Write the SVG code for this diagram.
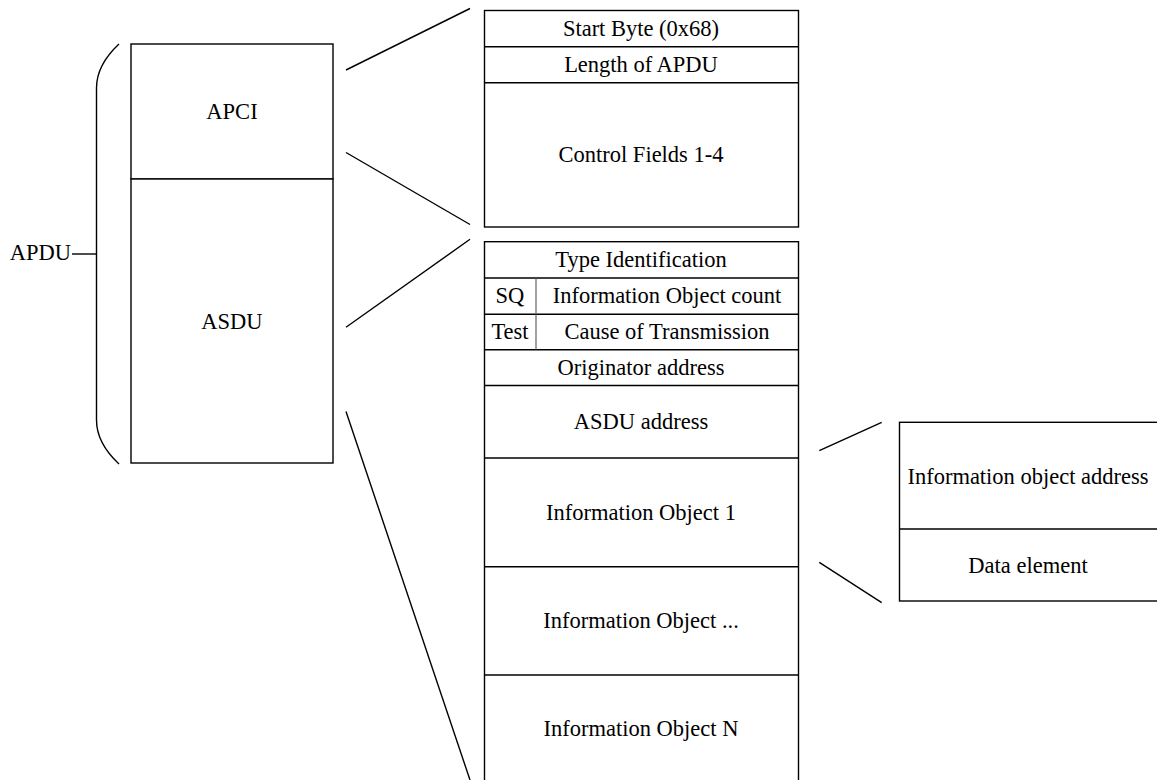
<svg xmlns="http://www.w3.org/2000/svg" width="1157" height="780" viewBox="0 0 1157 780">
<style>
.b{fill:#fff;stroke:#000;stroke-width:1.4}
.l{fill:none;stroke:#000;stroke-width:1.4}
.d{fill:none;stroke:#555;stroke-width:1.1}
text{font-family:"Liberation Serif","Times New Roman",serif;font-size:22.5px;fill:#000;text-anchor:middle}
</style>
<rect width="1157" height="780" fill="#fff"/>
<g id="apdu">
<path class="l" d="M119,44 C104,58 96.5,72 96.5,88 L96.5,420 C96.5,436 104,450 119,464"/>
<line class="l" x1="72" y1="254" x2="96.5" y2="254"/>
<text x="71" y="260" style="text-anchor:end">APDU</text>
</g>
<g id="apci">
<rect class="b" x="131" y="44" width="202" height="135"/>
<text x="232" y="119">APCI</text>
</g>
<g id="asdu">
<rect class="b" x="131" y="179" width="202" height="284"/>
<text x="232" y="328.5">ASDU</text>
</g>
<g id="apci-detail">
<rect class="b" x="484.5" y="10.5" width="314" height="216.5"/>
<line class="l" x1="484.5" y1="46.7" x2="798.5" y2="46.7"/>
<line class="l" x1="484.5" y1="82.7" x2="798.5" y2="82.7"/>
<text x="641" y="36">Start Byte (0x68)</text>
<text x="641" y="72">Length of APDU</text>
<text x="641" y="162.3">Control Fields 1-4</text>
</g>
<g id="asdu-detail">
<rect class="b" x="484.5" y="241.7" width="314" height="545"/>
<line class="l" x1="484.5" y1="278" x2="798.5" y2="278"/>
<line class="l" x1="484.5" y1="314.3" x2="798.5" y2="314.3"/>
<line class="l" x1="484.5" y1="349.7" x2="798.5" y2="349.7"/>
<line class="l" x1="484.5" y1="385.5" x2="798.5" y2="385.5"/>
<line class="l" x1="484.5" y1="458" x2="798.5" y2="458"/>
<line class="l" x1="484.5" y1="566.7" x2="798.5" y2="566.7"/>
<line class="l" x1="484.5" y1="675" x2="798.5" y2="675"/>
<line class="d" x1="536" y1="278" x2="536" y2="349.7"/>
<text x="641" y="267">Type Identification</text>
<text x="510" y="303">SQ</text>
<text x="667" y="303">Information Object count</text>
<text x="510" y="339">Test</text>
<text x="667" y="339">Cause of Transmission</text>
<text x="641" y="374.5">Originator address</text>
<text x="641" y="429.3">ASDU address</text>
<text x="641" y="520">Information Object 1</text>
<text x="641" y="628.3">Information Object ...</text>
<text x="641" y="736">Information Object N</text>
</g>
<g id="io-detail">
<rect class="b" x="899.5" y="422.3" width="260" height="178.7"/>
<line class="l" x1="899.5" y1="529" x2="1159" y2="529"/>
<text x="1028" y="483.5">Information object address</text>
<text x="1028" y="572.5">Data element</text>
</g>
<g id="connectors">
<line class="l" x1="346" y1="70" x2="470" y2="8.5"/>
<line class="l" x1="346" y1="152.5" x2="470" y2="224.5"/>
<line class="l" x1="346" y1="327.3" x2="470" y2="239.3"/>
<line class="l" x1="346" y1="411.5" x2="470" y2="780"/>
<line class="l" x1="819.3" y1="450.7" x2="881.7" y2="422.3"/>
<line class="l" x1="819.3" y1="562.3" x2="881.7" y2="602.7"/>
</g>
</svg>
